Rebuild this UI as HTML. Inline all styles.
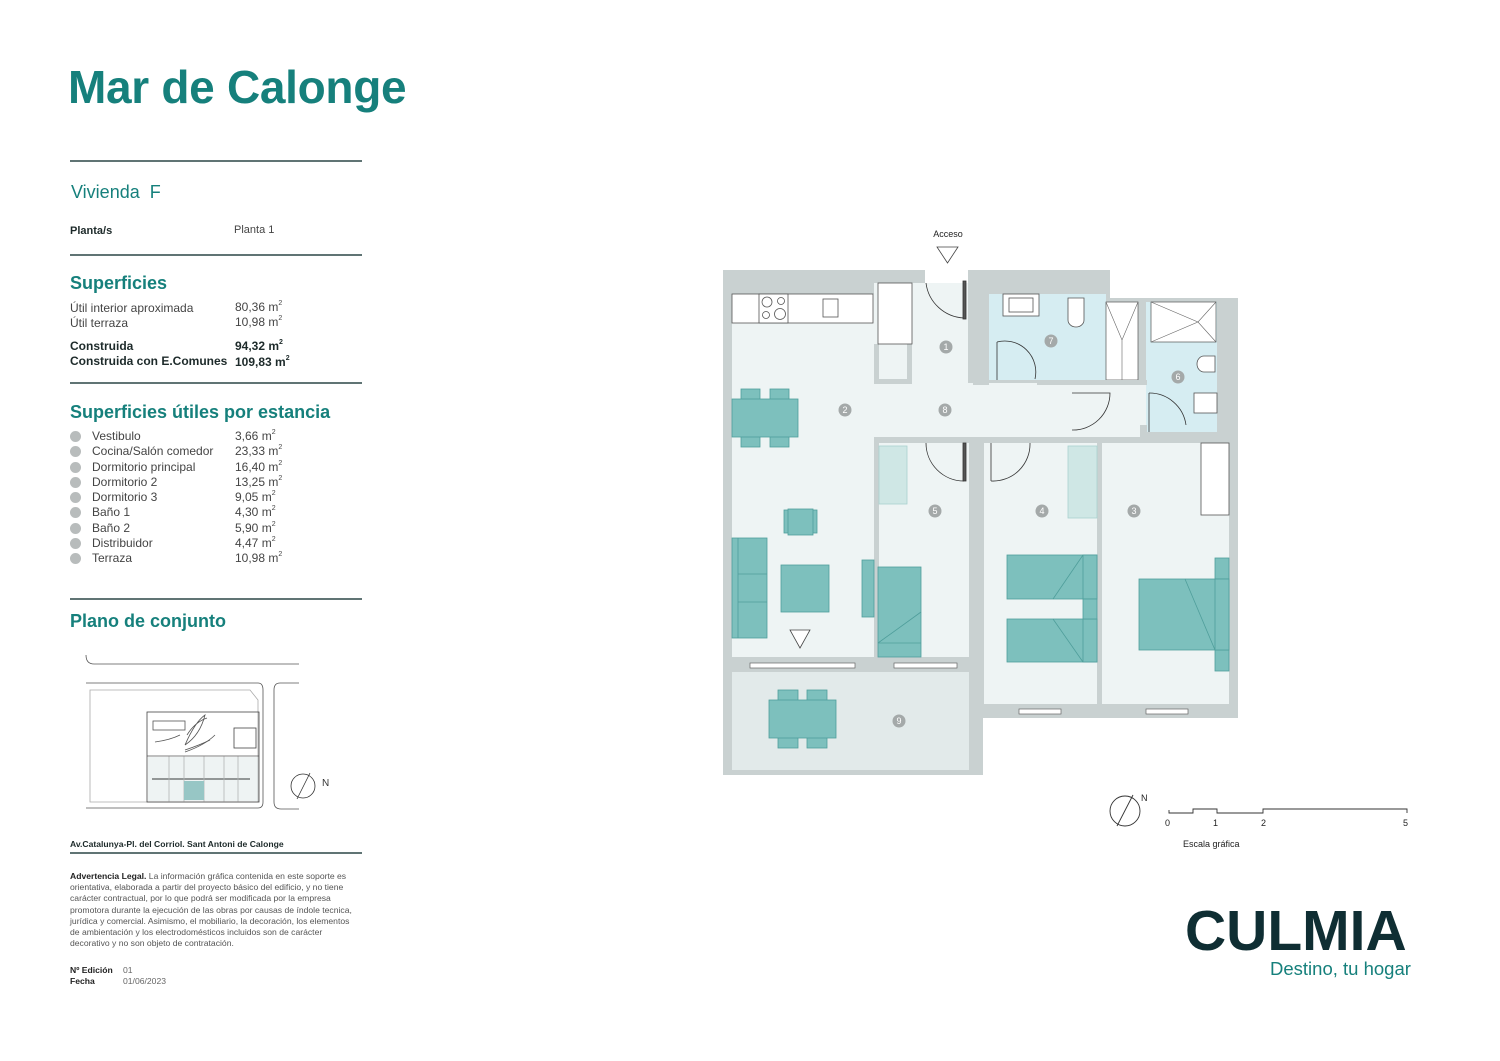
<!DOCTYPE html>
<html><head><meta charset="utf-8"><style>
*{margin:0;padding:0;box-sizing:border-box}
body{width:1500px;height:1061px;background:#fff;position:relative;overflow:hidden;font-family:"Liberation Sans",sans-serif;color:#333}
.t{position:absolute;white-space:nowrap}
.h2{font-size:18px;font-weight:bold;color:#16807c}
.s{font-size:12px;color:#444}
.b{font-size:12px;font-weight:bold;color:#1d2a2a}
sup{font-size:7px;vertical-align:top;line-height:1}
.rows div{height:15.3px;font-size:12px;color:#444;position:relative}
.rows .c{position:absolute;left:0;top:2px;width:11px;height:11px;border-radius:50%;background:#b8bcbc}
.rows .n{position:absolute;left:22px}
.rows .v{position:absolute;left:165px}
.legal{font-size:8.6px;line-height:11.2px;color:#555;width:290px}
</style></head><body>
<svg width="1500" height="1061" style="position:absolute;left:0;top:0">
<g stroke="#2c4747" stroke-width="1.5">
<line x1="70" y1="161" x2="362" y2="161"/><line x1="70" y1="255" x2="362" y2="255"/>
<line x1="70" y1="383" x2="362" y2="383"/><line x1="70" y1="599" x2="362" y2="599"/>
<line x1="70" y1="853" x2="362" y2="853"/></g>
<g fill="none" stroke="#555" stroke-width="0.8">
<path d="M86 655 Q86 664 94 664 L299 664"/>
<path d="M86 683 L258 683 Q263 683 263 690 L263 802 Q263 808 258 808 L86 808"/>
<path d="M299 683 L280 683 Q274 683 274 690 L274 802 Q274 809 281 809 L299 809"/>
<path d="M90 690 L250 690 L258 700 L258 802 L90 802 Z" stroke="#aaa"/>
<rect x="147" y="712" width="112" height="90" stroke="#444"/>
<rect x="234" y="728" width="22" height="20" stroke="#444"/>
<rect x="153" y="721" width="32" height="9"/>
<path d="M185 745 Q195 722 205 715 Q200 735 185 745 M185 750 Q200 745 210 740 M187 735 Q195 722 207 718"/>
<path d="M155 742 Q170 740 180 735 M185 752 Q205 745 215 735"/>
<line x1="147" y1="756" x2="259" y2="756"/><line x1="152" y1="779" x2="250" y2="779" stroke="#333" stroke-width="1.5"/>
<g stroke="#999"><line x1="169" y1="756" x2="169" y2="802"/><line x1="184" y1="756" x2="184" y2="802"/><line x1="204" y1="756" x2="204" y2="802"/><line x1="224" y1="756" x2="224" y2="802"/><line x1="238" y1="756" x2="238" y2="802"/></g>
<circle cx="303" cy="786" r="12" stroke="#333"/><line x1="297" y1="799" x2="310" y2="773" stroke="#333"/>
</g>
<rect x="184" y="781" width="20" height="19" fill="#6fb5b2"/>
<rect x="148" y="757" width="110" height="44" fill="#d5e0e0" opacity=".4"/>
<text x="322" y="786" font-size="10" fill="#333">N</text>

<g>
<rect x="723" y="270" width="260" height="505" fill="#c9d1d1"/>
<rect x="972" y="270" width="138" height="40" fill="#c9d1d1"/>
<rect x="972" y="298" width="266" height="420" fill="#c9d1d1"/>
<rect x="925" y="270" width="43" height="14" fill="#fff"/>
<rect x="732" y="294" width="142" height="363" fill="#eef4f4"/>
<rect x="874" y="283" width="94" height="154" fill="#eef4f4"/>
<rect x="874" y="383" width="273" height="54" fill="#eef4f4"/>
<rect x="1102" y="383" width="45" height="60" fill="#eef4f4"/>
<rect x="879" y="443" width="94" height="214" fill="#eef4f4"/>
<rect x="984" y="443" width="113" height="261" fill="#eef4f4"/>
<rect x="1102" y="443" width="127" height="261" fill="#eef4f4"/>
<rect x="1147" y="437" width="82" height="6" fill="#c9d1d1"/>
<rect x="989" y="294" width="117" height="86" fill="#d6edf2"/>
<rect x="1106" y="302" width="32" height="78" fill="#fff" stroke="#555" stroke-width=".7"/>
<rect x="1146" y="302" width="71" height="130" fill="#d6edf2"/>
<rect x="1151" y="302" width="65" height="40" fill="#fff" stroke="#555" stroke-width=".7"/>
<path d="M1106 302 L1122 340 L1138 302 M1122 340 L1122 380 M1151 302 L1198 322 L1216 302 M1151 342 L1198 322 L1216 342" stroke="#666" stroke-width=".6" fill="none"/>
<rect x="732" y="672" width="237" height="98" fill="#e2eaea"/>
<rect x="874" y="437" width="5" height="220" fill="#c9d1d1"/>
<rect x="874" y="437" width="56" height="6" fill="#c9d1d1"/>
<rect x="965" y="437" width="24" height="6" fill="#c9d1d1"/>
<rect x="969" y="437" width="15" height="267" fill="#c9d1d1"/>
<rect x="1030" y="437" width="117" height="6" fill="#c9d1d1"/>
<rect x="1097" y="437" width="5" height="267" fill="#c9d1d1"/>
<rect x="1140" y="298" width="6" height="86" fill="#c9d1d1"/>
<rect x="1140" y="425" width="7" height="18" fill="#c9d1d1"/>
<rect x="973" y="283" width="16" height="102" fill="#c9d1d1"/>
<rect x="1037" y="380" width="110" height="5" fill="#c9d1d1"/>
<rect x="874" y="344" width="38" height="40" fill="#c9d1d1"/>
<rect x="879" y="344" width="28" height="35" fill="#eef4f4"/>
<rect x="723" y="657" width="260" height="15" fill="#c9d1d1"/>
<rect x="732" y="294" width="141" height="29" fill="#fff" stroke="#555" stroke-width=".8"/>
<rect x="759" y="294" width="29" height="29" fill="#fff" stroke="#555" stroke-width=".8"/>
<g fill="none" stroke="#555" stroke-width=".8"><circle cx="767" cy="302" r="5"/><circle cx="781" cy="301" r="3.5"/><circle cx="766" cy="315" r="3.5"/><circle cx="780" cy="314" r="5.5"/><rect x="823" y="299" width="15" height="18"/></g>
<rect x="878" y="283" width="34" height="61" fill="#fff" stroke="#555" stroke-width=".8"/>
<g fill="#fff" stroke="#555" stroke-width=".8">
<rect x="1003" y="294" width="36" height="22"/><rect x="1009" y="298" width="24" height="14"/>
<path d="M1068 298 h16 v22 a8 7 0 0 1 -16 0 z"/>
<path d="M1215 356 h-11 a7 8 0 0 0 0 16 h11 z"/>
<rect x="1194" y="393" width="23" height="20"/>
</g>
<g fill="#fff" stroke="#666" stroke-width=".7">
<rect x="750" y="663" width="105" height="5"/><rect x="894" y="663" width="63" height="5"/>
<rect x="1019" y="709" width="42" height="5"/><rect x="1146" y="709" width="42" height="5"/>
</g>
<g fill="none" stroke="#333" stroke-width=".8">
<path d="M926 283 A40 40 0 0 0 964 318"/><rect x="963" y="281" width="3" height="38" fill="#555"/>
<path d="M997 342 A31 31 0 0 1 1035 379"/><line x1="997" y1="342" x2="997" y2="380"/>
<path d="M1072 393 L1110 393 A37 37 0 0 1 1072 430"/>
<path d="M1149 393 A37 37 0 0 1 1186 425"/><line x1="1149" y1="393" x2="1149" y2="432"/>
<path d="M926 443 A38 38 0 0 0 964 481"/><rect x="963" y="443" width="3" height="38" fill="#555"/>
<path d="M991 481 A37 37 0 0 0 1030 443"/><line x1="991" y1="443" x2="991" y2="481"/>
</g>
<g fill="#7dc0bd" stroke="#4f9e9b" stroke-width=".8">
<rect x="741" y="389" width="19" height="11"/><rect x="770" y="389" width="19" height="11"/>
<rect x="741" y="436" width="19" height="11"/><rect x="770" y="436" width="19" height="11"/>
<rect x="732" y="399" width="66" height="38"/>
<rect x="784" y="510" width="33" height="23"/><rect x="788" y="509" width="25" height="26"/>
<rect x="732" y="538" width="35" height="100"/><line x1="738" y1="538" x2="738" y2="638"/><line x1="738" y1="574" x2="767" y2="574"/><line x1="738" y1="602" x2="767" y2="602"/>
<rect x="781" y="565" width="48" height="47"/>
<rect x="862" y="560" width="12" height="57"/>
<rect x="878" y="567" width="43" height="90"/><path d="M878 643 L921 612 M878 643 h43"/>
<rect x="1007" y="555" width="90" height="44"/><rect x="1083" y="555" width="14" height="44"/><path d="M1053 599 L1083 555"/>
<rect x="1007" y="619" width="90" height="43"/><rect x="1083" y="619" width="14" height="43"/><path d="M1053 619 L1083 662"/>
<rect x="1083" y="599" width="14" height="20"/>
<rect x="1215" y="558" width="14" height="113"/>
<rect x="1139" y="579" width="90" height="71"/><path d="M1185 579 L1215 650"/><rect x="1215" y="579" width="14" height="71"/>
<rect x="778" y="690" width="20" height="11"/><rect x="807" y="690" width="20" height="11"/>
<rect x="778" y="737" width="20" height="11"/><rect x="807" y="737" width="20" height="11"/>
<rect x="769" y="700" width="67" height="38"/>
</g>
<rect x="879" y="446" width="28" height="58" fill="#cfe7e5" stroke="#a8d2cf" stroke-width=".8"/>
<rect x="1068" y="446" width="29" height="72" fill="#cfe7e5" stroke="#a8d2cf" stroke-width=".8"/>
<rect x="1201" y="443" width="28" height="72" fill="#fff" stroke="#555" stroke-width=".8"/>
<path d="M790 630 L810 630 L800 648 Z" fill="#fff" stroke="#444" stroke-width=".8"/>
<path d="M937 247 L958 247 L947.5 263 Z" fill="#fff" stroke="#444" stroke-width=".8"/>
<g fill="#a4a9a9"><circle cx="946" cy="347" r="6.5"/><circle cx="845" cy="410" r="6.5"/><circle cx="1134" cy="511" r="6.5"/><circle cx="1042" cy="511" r="6.5"/><circle cx="935" cy="511" r="6.5"/><circle cx="1178" cy="377" r="6.5"/><circle cx="1051" cy="341" r="6.5"/><circle cx="945" cy="410" r="6.5"/><circle cx="899" cy="721" r="6.5"/></g>
<g fill="#fff" font-size="9" text-anchor="middle"><text x="946" y="350">1</text><text x="845" y="413">2</text><text x="1134" y="514">3</text><text x="1042" y="514">4</text><text x="935" y="514">5</text><text x="1178" y="380">6</text><text x="1051" y="344">7</text><text x="945" y="413">8</text><text x="899" y="724">9</text></g>
<text x="948" y="237" font-size="9" fill="#222" text-anchor="middle">Acceso</text>
</g>
<g fill="none" stroke="#333" stroke-width=".9">
<circle cx="1125" cy="811" r="15"/><line x1="1117" y1="826" x2="1133" y2="795"/>
<path d="M1169 810 v3 h24 v-4 h24 v4 h46 v-4 h144 v4"/>
</g>
<g font-size="9" fill="#222"><text x="1141" y="801">N</text><text x="1165" y="826">0</text><text x="1213" y="826">1</text><text x="1261" y="826">2</text><text x="1403" y="826">5</text><text x="1183" y="847">Escala gráfica</text></g>
</svg>

<div class="t" style="left:68px;top:60px;font-size:46px;font-weight:bold;color:#16807c;letter-spacing:-0.3px">Mar de Calonge</div>
<div class="t h2" style="left:71px;top:182px;font-weight:normal;font-size:18px">Vivienda&nbsp; F</div>
<div class="t b" style="left:70px;top:225px;font-size:11px">Planta/s</div>
<div class="t s" style="left:234px;top:224px;font-size:11px">Planta 1</div>
<div class="t h2" style="left:70px;top:273px">Superficies</div>
<div class="t s" style="left:70px;top:301px">Útil interior aproximada</div>
<div class="t s" style="left:235px;top:300px">80,36 m<sup>2</sup></div>
<div class="t s" style="left:70px;top:316px">Útil terraza</div>
<div class="t s" style="left:235px;top:315px">10,98 m<sup>2</sup></div>
<div class="t b" style="left:70px;top:339px">Construida</div>
<div class="t b" style="left:235px;top:339px">94,32 m<sup>2</sup></div>
<div class="t b" style="left:70px;top:354px">Construida con E.Comunes</div>
<div class="t b" style="left:235px;top:355px">109,83 m<sup>2</sup></div>
<div class="t h2" style="left:70px;top:402px">Superficies útiles por estancia</div>
<div class="t rows" style="left:70px;top:429px;width:260px">
<div><span class="c"></span><span class="n">Vestibulo</span><span class="v">3,66 m<sup>2</sup></span></div>
<div><span class="c"></span><span class="n">Cocina/Salón comedor</span><span class="v">23,33 m<sup>2</sup></span></div>
<div><span class="c"></span><span class="n">Dormitorio principal</span><span class="v">16,40 m<sup>2</sup></span></div>
<div><span class="c"></span><span class="n">Dormitorio 2</span><span class="v">13,25 m<sup>2</sup></span></div>
<div><span class="c"></span><span class="n">Dormitorio 3</span><span class="v">9,05 m<sup>2</sup></span></div>
<div><span class="c"></span><span class="n">Baño 1</span><span class="v">4,30 m<sup>2</sup></span></div>
<div><span class="c"></span><span class="n">Baño 2</span><span class="v">5,90 m<sup>2</sup></span></div>
<div><span class="c"></span><span class="n">Distribuidor</span><span class="v">4,47 m<sup>2</sup></span></div>
<div><span class="c"></span><span class="n">Terraza</span><span class="v">10,98 m<sup>2</sup></span></div>
</div>
<div class="t h2" style="left:70px;top:611px">Plano de conjunto</div>
<div class="t b" style="left:70px;top:839px;font-size:8.6px">Av.Catalunya-Pl. del Corriol. Sant Antoni de Calonge</div>
<div class="t legal" style="left:70px;top:871px;white-space:normal"><b style="color:#222">Advertencia Legal.</b> La información gráfica contenida en este soporte es orientativa, elaborada a partir del proyecto básico del edificio, y no tiene carácter contractual, por lo que podrá ser modificada por la empresa promotora durante la ejecución de las obras por causas de índole tecnica, jurídica y comercial. Asimismo, el mobiliario, la decoración, los elementos de ambientación y los electrodomésticos incluidos son de carácter decorativo y no son objeto de contratación.</div>
<div class="t" style="left:70px;top:965px;font-size:8.6px;line-height:11px;color:#222"><b>Nº Edición</b><br><b>Fecha</b></div>
<div class="t" style="left:123px;top:965px;font-size:8.6px;line-height:11px;color:#666">01<br>01/06/2023</div>
<div class="t" style="left:1185px;top:898px;font-size:57px;font-weight:bold;color:#0f2e33;letter-spacing:0px">CULMIA</div>
<div class="t" style="left:1270px;top:958px;font-size:18.5px;color:#16807c">Destino, tu hogar</div>
</body></html>
